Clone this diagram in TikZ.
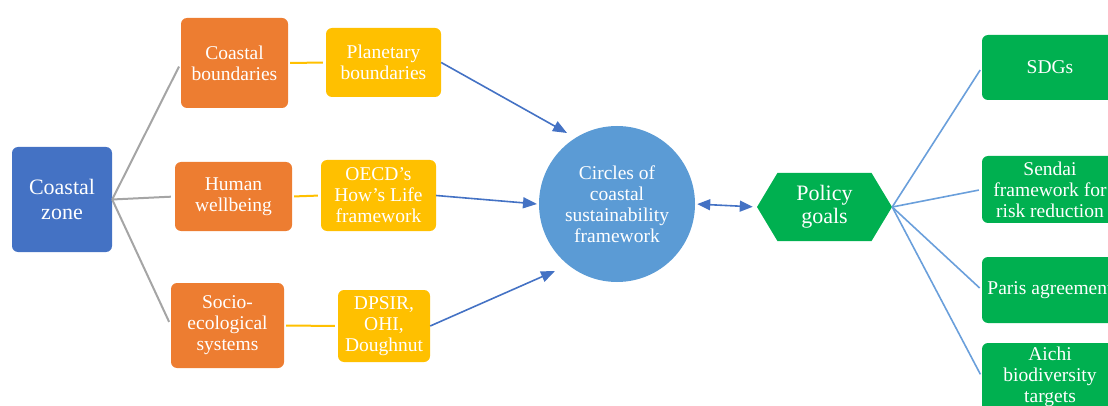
\documentclass[tikz,border=0pt]{standalone}
\usepackage{fontspec}
\setmainfont{Liberation Serif}
\usepackage{tikz}
\usetikzlibrary{arrows.meta,shapes.symbols}

\definecolor{zoneblue}{HTML}{4472C4}
\definecolor{boxorange}{HTML}{ED7D31}
\definecolor{boxyellow}{HTML}{FFC000}
\definecolor{circblue}{HTML}{5B9BD5}
\definecolor{goalgreen}{HTML}{00B050}
\definecolor{linkgray}{HTML}{A5A5A5}
\definecolor{linkblue}{HTML}{6A9FDB}

\begin{document}
\begin{tikzpicture}[x=1pt,y=-1pt,>={Triangle[length=14pt,width=11pt]},
  box/.style={rounded corners=6pt,inner sep=0pt,align=center,text=white,
    font=\fontsize{19.5}{21}\selectfont},
  zone/.style={box,fill=zoneblue,font=\fontsize{22}{25}\selectfont},
  theme/.style={box,fill=boxorange},
  tool/.style={box,fill=boxyellow},
  goal/.style={box,fill=goalgreen,minimum width=136pt},
  graylink/.style={draw=linkgray,line width=2pt,shorten >=4pt},
  yellowlink/.style={draw=boxyellow,line width=2pt,shorten <=2pt,shorten >=3pt},
  bluearrow/.style={draw=zoneblue,line width=1.6pt,->},
  goallink/.style={draw=linkblue,line width=1.6pt,shorten >=3pt}]
  \useasboundingbox (0,0) rectangle (1108,406);

  % left: coastal zone and its three themes
  \node[zone,minimum width=100pt,minimum height=105pt] (cz) at (62,199.5) {Coastal\\zone};
  \node[theme,minimum width=107pt,minimum height=90pt] (cb) at (234.5,63) {Coastal\\boundaries};
  \node[theme,minimum width=117pt,minimum height=69pt] (hw) at (233.5,196.5) {Human\\wellbeing};
  \node[theme,minimum width=113pt,minimum height=85pt] (se) at (227.5,325.5) {Socio-\\ecological\\systems};

  % tools per theme
  \node[tool,minimum width=115pt,minimum height=69pt] (pb) at (383.5,62.5) {Planetary\\boundaries};
  \node[tool,minimum width=115pt,minimum height=71pt] (oe) at (378.5,195.5) {OECD's\\How's Life\\framework};
  \node[tool,minimum width=92pt,minimum height=72pt] (dp) at (384,326) {DPSIR,\\OHI,\\Doughnut};

  % centre circle and policy hexagon
  \node[circle,fill=circblue,text=white,minimum size=156pt,inner sep=0pt,align=center,
    font=\fontsize{19.5}{21}\selectfont] (ccs) at (617,204)
    {Circles of\\coastal\\sustainability\\framework};
  \node[signal,signal to=east and west,signal pointer angle=118,fill=goalgreen,text=white,
    minimum width=135pt,minimum height=68pt,inner sep=0pt,align=center,
    font=\fontsize{22}{23}\selectfont] (pg) at (824.5,207) {Policy\\goals};

  % policy goals on the right edge
  \node[goal,minimum height=65pt] (sdg) at (1050,67.5) {SDGs};
  \node[goal,minimum height=67pt] (sen) at (1050,189.5) {Sendai\\framework for\\risk reduction};
  \node[goal,minimum height=66pt] (par) at (1050,290) {Paris agreement};
  \node[goal,minimum height=68pt] (aic) at (1050,377) {Aichi\\biodiversity\\targets};

  % arrow ends next to the circle
  \coordinate (pbend) at (567,133);
  \coordinate (oeend) at (537,204);
  \coordinate (dpend) at (555,271);

  % connectors
  \foreach \t in {cb,hw,se}
    \draw[graylink] (cz.east) -- (\t.west);
  \draw[yellowlink] (cb.east) -- (pb.west);
  \draw[yellowlink] (hw.east) -- (oe.west);
  \draw[yellowlink] (se.east) -- (dp.west);
  \draw[bluearrow] (pb.east) -- (pbend);
  \draw[bluearrow] (oe.east) -- (oeend);
  \draw[bluearrow] (dp.east) -- (dpend);
  \draw[draw=zoneblue,line width=1.6pt,{Triangle[length=13pt,width=11pt]}-{Triangle[length=13pt,width=11pt]},
    shorten <=2pt,shorten >=4pt] (ccs.east) -- (pg.west);
  \foreach \g in {sdg,sen,par,aic}
    \draw[goallink] (pg.east) -- (\g.west);
\end{tikzpicture}
\end{document}
